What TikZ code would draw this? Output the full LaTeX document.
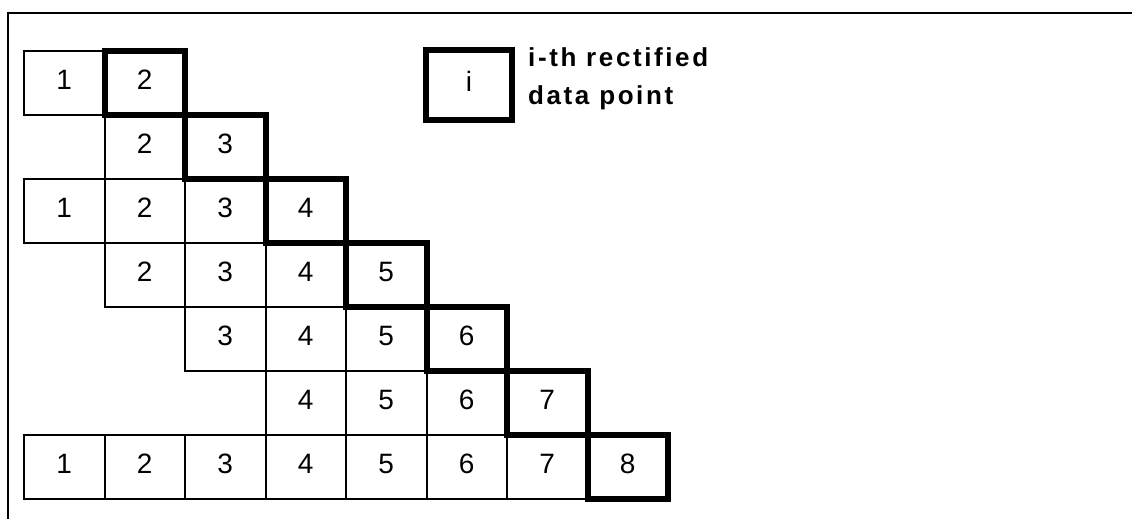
\documentclass[tikz,border=0pt]{standalone}
\usepackage{fontspec}
\setmainfont{Liberation Sans}
\newfontfamily\keyfont[LetterSpace=10]{Liberation Sans}
\usepackage{tikz}
\usetikzlibrary{positioning}

\tikzset{
  cell/.style={draw, line width=2pt, minimum width=80.5pt, minimum height=64pt,
    inner sep=0pt, text height=20pt, text depth=7pt, font=\fontsize{28}{32}\selectfont},
  rectcell/.style={cell, line width=6pt},
  keytext/.style={align=left, inner sep=0pt, font=\keyfont\bfseries\fontsize{26}{38}\selectfont}
}

\begin{document}
\begin{tikzpicture}[x=1pt,y=1pt]
\useasboundingbox (0,0) rectangle (1132,519);

% --- CORNICE ---
\draw[line width=2pt] (8,0) -- (8,506) -- (1132,506);

% --- CELLE SOTTILI (riga/prima colonna) ---
\foreach \r/\f in {1/1,2/2,3/1,4/2,5/3,6/4,7/1} {
    \foreach \c in {\f,...,\r} {
        \node[cell] (c-\r-\c) at (80.5*\c-16.25, 500-64*\r) {\c};
    }
}

% --- CELLE RETTIFICATE (diagonale) ---
\foreach \r in {1,...,7} {
    \pgfmathtruncatemacro{\c}{\r+1}
    \node[rectcell] (c-\r-\c) at (80.5*\c-16.25, 500-64*\r) {\c};
}

% --- LEGENDA ---
\node[rectcell, minimum width=86pt, minimum height=70pt] (key) at (469,434) {i};
\node[keytext, anchor=north west] (keylabel) at (528,472) {i-th rectified\\data point};

\end{tikzpicture}
\end{document}
